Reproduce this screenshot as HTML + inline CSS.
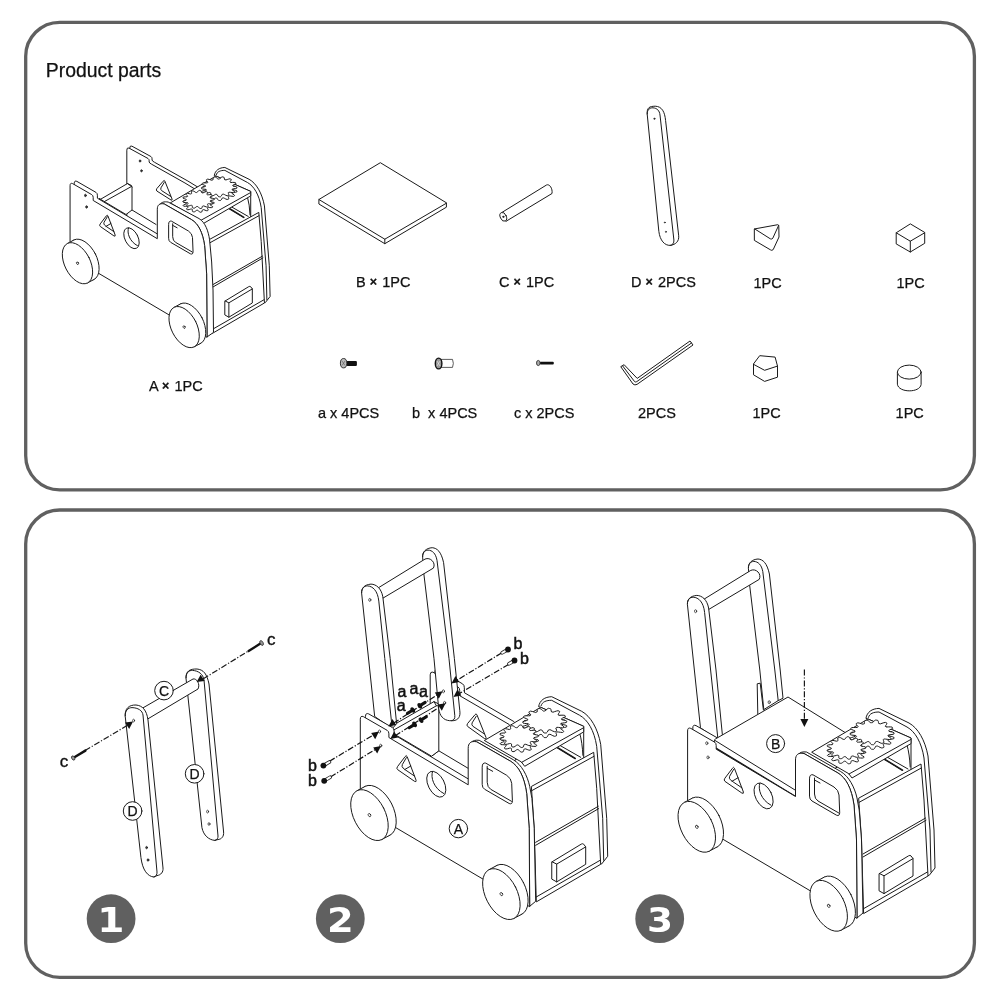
<!DOCTYPE html>
<html><head><meta charset="utf-8"><title>Product parts</title>
<style>
html,body{margin:0;padding:0;background:#fff;}
body{width:1000px;height:1000px;overflow:hidden;position:relative;font-family:"Liberation Sans",sans-serif;}
svg{position:absolute;left:0;top:0;display:block;will-change:transform}
.t{font-family:"Liberation Sans",sans-serif;font-size:14.5px;fill:#111;stroke:#111;stroke-width:.25}
.k{fill:none;stroke:#1a1a1a;stroke-width:1;stroke-linejoin:round;stroke-linecap:round;vector-effect:non-scaling-stroke}
.w{fill:#fff;stroke:#1a1a1a;stroke-width:1;stroke-linejoin:round;stroke-linecap:round;vector-effect:non-scaling-stroke}
.n{font-family:"DejaVu Sans",sans-serif;font-weight:bold;font-size:34px;fill:#fff;text-anchor:middle}
</style></head><body>
<svg width="1000" height="1000" viewBox="0 0 1000 1000">
<!-- 00_frame.svg -->
<rect x="25.7" y="22.3" width="948.7" height="467.5" rx="34" ry="34" fill="#fff" stroke="#606060" stroke-width="3.3"/>
<rect x="25.7" y="510" width="948.7" height="467.3" rx="34" ry="34" fill="#fff" stroke="#606060" stroke-width="3.3"/>
<text x="45.8" y="76.8" style="font-family:'Liberation Sans',sans-serif;font-size:19.4px;fill:#111;stroke:#111;stroke-width:.25">Product parts</text>
<text class="t" x="149" y="390.8">A <tspan style="font-weight:bold;font-size:12.5px" dy="-0.6">×</tspan><tspan dy="0.6" dx="1.2"> </tspan>1PC</text>
<text class="t" x="356" y="286.6">B <tspan style="font-weight:bold;font-size:12.5px" dy="-0.6">×</tspan><tspan dy="0.6" dx="1.2"> </tspan>1PC</text>
<text class="t" x="499" y="286.6">C <tspan style="font-weight:bold;font-size:12.5px" dy="-0.6">×</tspan><tspan dy="0.6" dx="1.2"> </tspan>1PC</text>
<text class="t" x="631" y="286.6">D <tspan style="font-weight:bold;font-size:12.5px" dy="-0.6">×</tspan><tspan dy="0.6" dx="1.2"> </tspan>2PCS</text>
<text class="t" x="753.5" y="287.5">1PC</text>
<text class="t" x="896.5" y="287.5">1PC</text>
<text class="t" x="318" y="418">a x 4PCS</text>
<text class="t" x="412" y="418" xml:space="preserve">b  x 4PCS</text>
<text class="t" x="514" y="418">c x 2PCS</text>
<text class="t" x="638" y="418">2PCS</text>
<text class="t" x="752.5" y="418.4">1PC</text>
<text class="t" x="895.6" y="418.4">1PC</text>
<circle cx="111.1" cy="918.7" r="24.4" fill="#606060"/>
<circle cx="340.3" cy="918.7" r="24.4" fill="#606060"/>
<circle cx="659.7" cy="918.7" r="24.4" fill="#606060"/>
<text class="n" x="0" y="932" transform="translate(110.9 0) scale(1.15 1)">1</text>
<text class="n" x="0" y="932" transform="translate(340.3 0) scale(1.13 1)">2</text>
<text class="n" x="0" y="932.2" transform="translate(659.9 0) scale(1.1 1)">3</text>
<!-- 10_smallparts.svg -->
<g class="k">
<!-- B board -->
<path class="w" d="M380 162.9 L318.9 199.5 L318.9 204 L384.8 243.7 L446.4 207.2 L446.4 203.2 Z"/>
<path d="M318.9 199.5 L384.8 239.2 L446.4 203.2 M384.8 239.2 L384.8 243.7"/>
<!-- C dowel -->
<path class="w" d="M502 212.4 L546.5 185 C549.5 183.6 552.8 188.5 552 193.5 L506.2 221.2 Z"/>
<ellipse class="w" cx="503.3" cy="216.8" rx="3" ry="4.6" transform="rotate(-25 503.3 216.8)"/>
<circle cx="503.3" cy="216.8" r="0.6" fill="#222"/>
<!-- D bar -->
<path class="w" d="M647.2 114.2 C646.6 107.5 649.5 106.3 655.2 106.2 C662 106.4 664.8 112 665.6 120.6 L678.7 235.8 C679.2 241.5 675.5 244.6 670.4 245.4 C664.5 245.6 660 240.5 658.9 231.8 Z"/>
<path d="M647.2 114.2 C647 109.5 650 107.6 653 107.8 C657 108.2 659.5 110.5 660 115 L673.9 240 C674.2 243 672.5 245.3 670.4 245.4"/>
<circle cx="654.4" cy="118.7" r="0.7" fill="#333" stroke-width="0.5"/>
<circle cx="664.8" cy="222.5" r="0.6" fill="#333" stroke-width="0.5"/>
<circle cx="665.9" cy="231.8" r="0.6" fill="#333" stroke-width="0.5"/>
<!-- triangular prism -->
<path class="w" d="M754.7 228.9 L777.8 224.7 Q779 224.8 778.8 226.5 L779 237 L773.2 249.6 Q771.8 251 770.4 249.8 L754.7 240.6 Z"/>
<path d="M754.7 228.9 L770.3 238.8 Q772 239.8 772.9 238 L778.6 225.5"/>
<!-- cube -->
<path class="w" d="M910 224.1 L896.2 232.8 L896.2 243.9 L910.3 252 L924.7 243.3 L924.7 232.8 Z"/>
<path d="M896.2 232.8 L910.3 241.2 L924.7 232.8 M910.3 241.2 L910.3 252"/>
<!-- pentagon -->
<path class="w" d="M760.1 355.7 L775.1 357.1 L777.5 366.1 L777.5 377.2 L764.6 381.4 L753.5 374.8 L753.5 364.3 Z"/>
<path d="M753.5 364.3 L764.6 370.3 L777.5 366.1"/>
<!-- cylinder -->
<path class="w" d="M897.4 372.3 L897.4 384.2 C898.5 393 920 393 921.1 384.5 L921.1 372.3"/>
<ellipse class="w" cx="909.25" cy="372.1" rx="11.85" ry="7"/>
<!-- hex key -->
<path class="w" d="M621 367 L633 384 Q634.8 385.6 637 384.4 L693 345 L690 341 L637.2 378.4 L624.4 365 Z"/>
<path d="M622.7 366 L634.6 381.6 Q635.6 382.4 636.8 381.6 L691.5 343"/>
</g>
<!-- screw a -->
<rect x="346.5" y="360.9" width="10.4" height="5" rx="1" fill="#111"/>
<ellipse cx="343.6" cy="363.2" rx="3.2" ry="4.7" fill="#bbb" stroke="#222" stroke-width="0.9"/>
<path d="M342 361 L345 365.5 M345 361 L342 365.5" stroke="#555" stroke-width="0.6"/>
<!-- screw b -->
<path d="M441 359.4 L452.5 359.4 Q454.2 363.4 452.5 367.4 L441 367.4 Z" fill="#fff" stroke="#333" stroke-width="0.8"/>
<ellipse cx="438.6" cy="363.5" rx="3.3" ry="5.4" fill="#999" stroke="#111" stroke-width="1.4"/>
<path d="M437 361 L440 366 M440 361 L437 366" stroke="#eee" stroke-width="0.6"/>
<!-- screw c -->
<rect x="540" y="361.7" width="13.8" height="2.7" rx="1" fill="#111"/>
<ellipse cx="538.3" cy="363" rx="1.8" ry="2.6" fill="#aaa" stroke="#222" stroke-width="0.8"/>
<!-- 20_step1.svg -->
<g class="k">
<!-- right (far) bar -->
<path class="w" d="M186 678 C185.6 671 190 668.8 197 669 C203.5 669.6 207 674 209 684 L223.6 832 C224 836.5 221.5 839.3 218 839.5 L215 840.4 C209 840 203.5 835.5 202 828 Z"/>
<path d="M186 678 C186 672.5 189 670.2 192.5 670.4 C198.5 670.8 203 674 204 680 L218 836 C218.2 838 217 840 215 840.4"/>
<!-- crossbar -->
<path class="w" d="M141 709 L193 679 C196.5 678 200.5 684 198 689 L147 719.4 Z"/>
<!-- left (near) bar -->
<path class="w" d="M125.2 716 C124.6 708.5 129 704.8 136 705 C142.5 705.6 146.6 710 148 720 L163 868 C163.4 872 161 875 157 875.6 L154 877 C147.5 876.5 142.5 870 141 858 Z"/>
<path d="M125.2 716 C125 710.5 128 707.7 132 707.6 C138 707.8 142.4 710.5 143 715 L157 872 C157.2 874.5 156 876.5 154 877"/>
<ellipse cx="133.6" cy="720.6" rx="1" ry="1.4" style="stroke-width:.7"/>
<ellipse cx="146.6" cy="847.6" rx="0.9" ry="1.2" style="stroke-width:.7" fill="#444"/>
<ellipse cx="148" cy="860" rx="0.9" ry="1.2" style="stroke-width:.7" fill="#444"/>
<ellipse cx="207.6" cy="811.6" rx="1" ry="1.4" style="stroke-width:.7"/>
<ellipse cx="209" cy="824" rx="1" ry="1.4" style="stroke-width:.7"/>
<!-- dash-dot lines -->
<path d="M85 750.5 L127 725.6" style="stroke-dasharray:6 1.8 1.2 1.8;stroke-width:1.2;stroke-linecap:butt"/>
<path d="M203 679 L247.2 651.8" style="stroke-dasharray:6 1.8 1.2 1.8;stroke-width:1.2;stroke-linecap:butt"/>
</g>
<path d="M133 721.6 L125 722.6 L129.2 729 Z" fill="#111"/>
<path d="M196.6 682 L204.6 681 L200.6 674.8 Z" fill="#111"/>
<!-- screws c -->
<path d="M74.8 757 L85.4 750.6" stroke="#111" stroke-width="2.4" stroke-linecap="round"/>
<ellipse cx="73.2" cy="758" rx="1.5" ry="2.3" transform="rotate(-30 73.2 758)" fill="#999" stroke="#222" style="stroke-width:.7"/>
<path d="M248.6 651 L260 643.8" stroke="#111" stroke-width="2.4" stroke-linecap="round"/>
<ellipse cx="261.6" cy="643" rx="1.5" ry="2.6" transform="rotate(-30 261.6 643)" fill="#999" stroke="#222" style="stroke-width:.7"/>
<text x="64" y="767" text-anchor="middle" style="font-family:'Liberation Sans',sans-serif;font-size:17px;fill:#111;stroke:#111;stroke-width:.35">c</text>
<text x="271.2" y="645" text-anchor="middle" style="font-family:'Liberation Sans',sans-serif;font-size:17px;fill:#111;stroke:#111;stroke-width:.35">c</text>
<!-- circle labels -->
<g style="font-family:'Liberation Sans',sans-serif;font-size:14px;fill:#111;stroke:#111;stroke-width:.25;text-anchor:middle">
<circle class="w" cx="164" cy="690.6" r="9.3"/><text x="164" y="695.7">C</text>
<circle class="w" cx="194.6" cy="773.8" r="9.3"/><text x="194.6" y="778.9">D</text>
<circle class="w" cx="132.6" cy="811" r="9.3"/><text x="132.6" y="816.1">D</text>
</g>
<!-- 30_trucks.svg -->
<g id="truckA" transform="translate(-485.93 -405.35) scale(0.8086)">
<path class="w" d="M866 718 C867 712 872 708.6 879 708.4 L909 723 C918 728 925 740 928 756 L934 830 L935 868 L929 875.6 L911 876 L911 738 L868 719 Z"/>
<path class="k" d="M868.4 717.4 C869.5 713.4 873.5 712 879 712 L907 727 C915 731.5 921.5 742 924 758 L930 830 L931 872"/>
<path class="k" d="M907 745 Q909.6 754 910.2 767"/>
<path class="w" transform="translate(3.6 -2.4)" d="M757.8 800 L757.8 687 Q757.8 683.4 760.4 684.4 L784 697.3 Q785.4 698.2 785.4 700 L785.4 701.6 Q785.6 703 788.3 704.3 L829.7 727.6 L850 740 L860 760 L800 800 Z"/>
<path class="w" d="M757.8 800 L757.8 687 Q757.8 683.4 760.4 684.4 L784 697.3 Q785.4 698.2 785.4 700 L785.4 701.6 Q785.6 703 788.3 704.3 L829.7 727.6 L850 740 L860 760 L800 800 Z"/>
<ellipse class="k" cx="774.1" cy="700.4" rx="1" ry="1.4" style="stroke-width:.7;fill:#444"/>
<ellipse class="k" cx="775.9" cy="712.5" rx="1" ry="1.4" style="stroke-width:.7;fill:#444"/>
<path class="k" d="M803 725 Q804 723.4 804.8 725.2 L813.8 747.6 Q814.2 749.6 812.4 748.6 L795 737.6 Q793.6 736.4 794.6 735 Z"/>
<path class="k" d="M804 727 L800 733.6 Q799.2 735.6 800.8 737 L812 744.2"/>
<path class="k" d="M764.2 761 L793.9 778.9"/>
<path class="w" d="M725.9 747.4 L758.6 728.3 L763.6 730.7 L764.2 732.6 L764.2 761 L756.8 766.6 L724 747 Z"/>
<path class="k" d="M730.2 750.5 L763.6 731.9 L764.2 732.6 M763.6 731.9 L758.6 728.3"/>
<path class="w" transform="translate(5.2 -2.8)" d="M687.6 818 L687.6 731 Q687.6 727 690.8 728.4 L714.4 742 Q716.2 743 716.2 745.5 L716.2 749.2 L795.5 796.5 L795.5 818 Z"/>
<path class="k" d="M884 759 L902 770 M887 757 L908 769"/>
<path class="k" d="M884.5 759.2 L902.5 770.2" style="stroke-width:1.6"/>
<path class="w" d="M859 798 L921 764 L924 800 L928 876 L863.6 913.6 L861.5 840 Z"/>
<path class="k" d="M859 802.4 L921.3 768"/>
<path class="k" d="M863 854 L925.6 818 M863 857 L926 820.3"/>
<path class="k" d="M863 909 L927.4 872"/>
<path class="w" d="M879.4 873.5 L908.6 855.8 Q910 855 911 855.9 L913 858.6 L913 876 L884 893.6 L879.4 891 Z"/>
<path class="k" d="M879.4 873.5 L884 875.8 L913 858.6 M884 875.8 L884 893.6"/>
<path class="w" d="M812 752 L868 719 L911 738 L911 743.6 L852 778 L849 774 Z"/>
<path class="k" d="M849 774 L910.6 739.6"/>
<path class="w" d="M892.9 736.9 L894.1 737.5 L894.0 738.1 L893.8 738.7 L892.0 739.1 L889.8 739.4 L888.3 739.6 L888.1 740.1 L887.9 740.5 L889.1 741.4 L890.5 742.3 L891.1 743.2 L890.5 743.7 L889.8 744.2 L887.9 744.0 L885.7 743.7 L884.2 743.6 L883.6 743.9 L883.1 744.3 L883.5 745.3 L883.9 746.5 L883.7 747.5 L882.8 747.8 L881.8 748.0 L880.1 747.4 L878.5 746.5 L877.3 746.0 L876.5 746.1 L875.7 746.3 L875.2 747.3 L874.5 748.5 L873.6 749.3 L872.5 749.3 L871.5 749.3 L870.5 748.3 L869.8 747.1 L869.1 746.3 L868.3 746.2 L867.5 746.2 L866.2 747.0 L864.6 747.9 L863.2 748.3 L862.2 748.0 L861.3 747.7 L861.3 746.6 L861.6 745.4 L861.6 744.5 L861.0 744.2 L860.3 743.9 L858.5 744.3 L856.4 744.7 L854.7 744.7 L854.1 744.2 L853.5 743.7 L854.5 742.7 L855.8 741.7 L856.5 740.9 L856.2 740.5 L855.8 740.1 L853.9 739.9 L851.7 739.7 L850.3 739.3 L850.1 738.7 L850.0 738.1 L851.7 737.5 L853.7 736.9 L855.0 736.4 L855.0 736.0 L855.0 735.5 L853.5 734.9 L851.7 734.1 L850.8 733.3 L851.1 732.8 L851.6 732.2 L853.6 732.1 L855.8 732.1 L857.3 732.0 L857.7 731.7 L858.1 731.2 L857.3 730.3 L856.4 729.1 L856.2 728.2 L856.9 727.8 L857.8 727.4 L859.7 727.8 L861.6 728.4 L863.0 728.8 L863.7 728.5 L864.4 728.3 L864.5 727.2 L864.6 725.9 L865.2 725.1 L866.2 724.9 L867.2 724.8 L868.6 725.6 L869.8 726.7 L870.8 727.4 L871.6 727.3 L872.4 727.3 L873.4 726.3 L874.5 725.3 L875.7 724.6 L876.8 724.8 L877.8 725.0 L878.3 726.0 L878.5 727.3 L878.8 728.1 L879.6 728.3 L880.3 728.5 L882.0 727.9 L883.9 727.3 L885.4 727.0 L886.3 727.4 L887.0 727.8 L886.6 728.9 L885.7 730.1 L885.3 730.9 L885.8 731.3 L886.3 731.6 L888.3 731.5 L890.5 731.5 L892.1 731.7 L892.5 732.2 L892.8 732.8 L891.5 733.6 L889.8 734.4 L888.7 735.1 L888.9 735.5 L889.1 736.0 L890.8 736.4 Z"/>
<path class="w" d="M892.9 732.3 L894.1 732.9 L894.0 733.5 L893.8 734.1 L892.0 734.5 L889.8 734.8 L888.3 735.0 L888.1 735.5 L887.9 735.9 L889.1 736.8 L890.5 737.7 L891.1 738.6 L890.5 739.1 L889.8 739.6 L887.9 739.4 L885.7 739.1 L884.2 739.0 L883.6 739.3 L883.1 739.7 L883.5 740.7 L883.9 741.9 L883.7 742.9 L882.8 743.2 L881.8 743.4 L880.1 742.8 L878.5 741.9 L877.3 741.4 L876.5 741.5 L875.7 741.7 L875.2 742.7 L874.5 743.9 L873.6 744.7 L872.5 744.7 L871.5 744.7 L870.5 743.7 L869.8 742.5 L869.1 741.7 L868.3 741.6 L867.5 741.6 L866.2 742.4 L864.6 743.3 L863.2 743.7 L862.2 743.4 L861.3 743.1 L861.3 742.0 L861.6 740.8 L861.6 739.9 L861.0 739.6 L860.3 739.3 L858.5 739.7 L856.4 740.1 L854.7 740.1 L854.1 739.6 L853.5 739.1 L854.5 738.1 L855.8 737.1 L856.5 736.3 L856.2 735.9 L855.8 735.5 L853.9 735.3 L851.7 735.1 L850.3 734.7 L850.1 734.1 L850.0 733.5 L851.7 732.9 L853.7 732.3 L855.0 731.8 L855.0 731.4 L855.0 730.9 L853.5 730.3 L851.7 729.5 L850.8 728.7 L851.1 728.2 L851.6 727.6 L853.6 727.5 L855.8 727.5 L857.3 727.4 L857.7 727.1 L858.1 726.6 L857.3 725.7 L856.4 724.5 L856.2 723.6 L856.9 723.2 L857.8 722.8 L859.7 723.2 L861.6 723.8 L863.0 724.2 L863.7 723.9 L864.4 723.7 L864.5 722.6 L864.6 721.3 L865.2 720.5 L866.2 720.3 L867.2 720.2 L868.6 721.0 L869.8 722.1 L870.8 722.8 L871.6 722.7 L872.4 722.7 L873.4 721.7 L874.5 720.7 L875.7 720.0 L876.8 720.2 L877.8 720.4 L878.3 721.4 L878.5 722.7 L878.8 723.5 L879.6 723.7 L880.3 723.9 L882.0 723.3 L883.9 722.7 L885.4 722.4 L886.3 722.8 L887.0 723.2 L886.6 724.3 L885.7 725.5 L885.3 726.3 L885.8 726.7 L886.3 727.0 L888.3 726.9 L890.5 726.9 L892.1 727.1 L892.5 727.6 L892.8 728.2 L891.5 729.0 L889.8 729.8 L888.7 730.5 L888.9 730.9 L889.1 731.4 L890.8 731.8 Z"/>
<path class="w" d="M865.7 752.6 L864.9 753.1 L863.1 753.5 L861.4 753.9 L861.0 754.3 L860.8 754.7 L861.4 755.2 L862.8 756.0 L864.0 756.8 L863.9 757.4 L863.5 757.9 L862.3 758.1 L860.4 758.0 L858.7 757.8 L858.0 758.0 L857.5 758.4 L857.6 759.0 L858.2 760.1 L858.6 761.1 L858.1 761.6 L857.3 761.9 L856.1 761.8 L854.5 761.2 L853.1 760.6 L852.3 760.6 L851.6 760.7 L851.2 761.3 L850.9 762.4 L850.4 763.5 L849.6 763.7 L848.6 763.8 L847.6 763.4 L846.7 762.4 L845.9 761.5 L845.2 761.3 L844.5 761.2 L843.6 761.7 L842.5 762.6 L841.3 763.3 L840.3 763.3 L839.4 763.2 L838.9 762.5 L838.8 761.4 L838.9 760.4 L838.4 760.0 L837.8 759.8 L836.7 759.9 L835.0 760.4 L833.3 760.7 L832.4 760.5 L831.8 760.1 L831.8 759.4 L832.7 758.4 L833.5 757.5 L833.4 757.0 L833.1 756.6 L832.0 756.5 L830.1 756.4 L828.3 756.3 L827.7 755.8 L827.4 755.3 L828.0 754.7 L829.6 754.0 L831.1 753.5 L831.4 753.0 L831.3 752.6 L830.5 752.2 L828.9 751.6 L827.4 751.0 L827.2 750.4 L827.4 749.9 L828.5 749.5 L830.4 749.3 L832.2 749.3 L832.7 748.9 L833.1 748.6 L832.7 747.9 L831.6 747.0 L830.8 746.1 L831.1 745.5 L831.8 745.1 L833.0 745.0 L834.8 745.4 L836.5 745.8 L837.2 745.7 L837.8 745.4 L838.0 744.8 L837.8 743.7 L837.8 742.6 L838.5 742.2 L839.4 742.0 L840.6 742.3 L841.9 743.1 L843.0 743.9 L843.8 744.0 L844.5 744.0 L845.2 743.4 L845.9 742.4 L846.8 741.5 L847.7 741.3 L848.6 741.4 L849.4 741.9 L849.9 743.0 L850.3 744.0 L850.9 744.3 L851.6 744.5 L852.6 744.2 L854.1 743.5 L855.6 742.9 L856.6 743.0 L857.3 743.3 L857.6 744.0 L857.2 745.1 L856.7 746.1 L857.0 746.5 L857.5 746.8 L858.6 746.8 L860.5 746.6 L862.3 746.5 L863.1 746.9 L863.5 747.3 L863.2 748.0 L861.9 748.9 L860.7 749.7 L860.6 750.1 L860.8 750.5 L861.8 750.8 L863.6 751.1 L865.3 751.5 L865.7 752.1 Z"/>
<path class="w" d="M865.7 748.0 L864.9 748.5 L863.1 748.9 L861.4 749.3 L861.0 749.7 L860.8 750.1 L861.4 750.6 L862.8 751.4 L864.0 752.2 L863.9 752.8 L863.5 753.3 L862.3 753.5 L860.4 753.4 L858.7 753.2 L858.0 753.4 L857.5 753.8 L857.6 754.4 L858.2 755.5 L858.6 756.5 L858.1 757.0 L857.3 757.3 L856.1 757.2 L854.5 756.6 L853.1 756.0 L852.3 756.0 L851.6 756.1 L851.2 756.7 L850.9 757.8 L850.4 758.9 L849.6 759.1 L848.6 759.2 L847.6 758.8 L846.7 757.8 L845.9 756.9 L845.2 756.7 L844.5 756.6 L843.6 757.1 L842.5 758.0 L841.3 758.7 L840.3 758.7 L839.4 758.6 L838.9 757.9 L838.8 756.8 L838.9 755.8 L838.4 755.4 L837.8 755.2 L836.7 755.3 L835.0 755.8 L833.3 756.1 L832.4 755.9 L831.8 755.5 L831.8 754.8 L832.7 753.8 L833.5 752.9 L833.4 752.4 L833.1 752.0 L832.0 751.9 L830.1 751.8 L828.3 751.7 L827.7 751.2 L827.4 750.7 L828.0 750.1 L829.6 749.4 L831.1 748.9 L831.4 748.4 L831.3 748.0 L830.5 747.6 L828.9 747.0 L827.4 746.4 L827.2 745.8 L827.4 745.3 L828.5 744.9 L830.4 744.7 L832.2 744.7 L832.7 744.3 L833.1 744.0 L832.7 743.3 L831.6 742.4 L830.8 741.5 L831.1 740.9 L831.8 740.5 L833.0 740.4 L834.8 740.8 L836.5 741.2 L837.2 741.1 L837.8 740.8 L838.0 740.2 L837.8 739.1 L837.8 738.0 L838.5 737.6 L839.4 737.4 L840.6 737.7 L841.9 738.5 L843.0 739.3 L843.8 739.4 L844.5 739.4 L845.2 738.8 L845.9 737.8 L846.8 736.9 L847.7 736.7 L848.6 736.8 L849.4 737.3 L849.9 738.4 L850.3 739.4 L850.9 739.7 L851.6 739.9 L852.6 739.6 L854.1 738.9 L855.6 738.3 L856.6 738.4 L857.3 738.7 L857.6 739.4 L857.2 740.5 L856.7 741.5 L857.0 741.9 L857.5 742.2 L858.6 742.2 L860.5 742.0 L862.3 741.9 L863.1 742.3 L863.5 742.7 L863.2 743.4 L861.9 744.3 L860.7 745.1 L860.6 745.5 L860.8 745.9 L861.8 746.2 L863.6 746.5 L865.3 746.9 L865.7 747.5 Z"/>
<path class="w" d="M797.6 755.6 C800 751 804 750.4 809 751.2 L847.1 771.6 C855 776.5 858.5 787 860.1 797.6 L862.7 825.3 L864.4 860 L865 912.4 L857 918 L856.5 840 L854 805 C851.5 788 846 778 838 773 L804 753.5 C801 753 799.5 753.3 797.6 755.6 Z"/>
<path class="w" d="M687.6 818 L687.6 731 Q687.6 727 690.8 728.4 L714.4 742 Q716.2 743 716.2 745.5 L716.2 749.2 L795.5 796.5 L795.5 760 C795.5 755 798 752.3 804 753.5 L838 773 C846 778 851.5 788 854 805 L856.5 840 L857 918 Z"/>
<path class="k" d="M809.5 778.5 Q809.5 774 813 774.8 L834 787 Q838.6 790 839 795 L839.7 812.5 Q839.7 816.5 836.5 815.2 L812 801 Q809.5 799.5 809.5 796.5 Z"/>
<path class="k" d="M814.5 778 L814.5 794 Q814.7 799 818 801 L838.8 813 M814.5 780 L820 783"/>
<ellipse class="k" cx="763.6" cy="795.9" rx="8.1" ry="13.9" transform="rotate(-27 763.6 795.9)"/>
<path class="k" d="M759.9 783.2 C757.6 789 761 800 771 805.2"/>
<path class="k" d="M732.6 768 Q733.6 766.4 734.4 768.2 L743.4 792 Q743.8 794.2 741.8 793 L725 781.4 Q723.4 780.2 724.6 778.6 Z"/>
<path class="k" d="M733.7 769.3 L729.6 776.3 Q728.8 778.4 730.4 779.8 L732.1 781.2 L742 787.9 M732.1 781.2 L738.1 777.7"/>
<ellipse class="k" cx="706.6" cy="743" rx="1.1" ry="1.5" style="stroke-width:.7;fill:#444"/>
<ellipse class="k" cx="708" cy="757.2" rx="1.1" ry="1.5" style="stroke-width:.7;fill:#444"/>
<ellipse class="w" cx="704.8" cy="822.5" rx="15.8" ry="27.4" transform="rotate(-27 704.8 822.5)"/>
<path d="M684.4 802.4 L692.4 798.1 L717.2 846.9 L709.2 851.2 Z" fill="#fff" stroke="none"/>
<path class="k" d="M684.4 802.4 L692.4 798.1 M709.2 851.2 L717.2 846.9"/>
<ellipse class="w" cx="696.8" cy="826.8" rx="15.8" ry="27.4" transform="rotate(-27 696.8 826.8)"/>
<ellipse class="k" cx="696.8" cy="826.8" rx="1.2" ry="1.7" transform="rotate(-27 696.8 826.8)" style="stroke-width:.85"/>
<ellipse class="w" cx="836.7" cy="901.5" rx="15.8" ry="27.4" transform="rotate(-27 836.7 901.5)"/>
<path d="M816.3 881.4 L824.3 877.1 L849.1 925.9 L841.1 930.2 Z" fill="#fff" stroke="none"/>
<path class="k" d="M816.3 881.4 L824.3 877.1 M841.1 930.2 L849.1 925.9"/>
<ellipse class="w" cx="828.7" cy="905.8" rx="15.8" ry="27.4" transform="rotate(-27 828.7 905.8)"/>
<ellipse class="k" cx="828.7" cy="905.8" rx="1.2" ry="1.7" transform="rotate(-27 828.7 905.8)" style="stroke-width:.85"/>
</g>
<g id="truck2" transform="translate(-327.3 -11.7)">
<path class="w" d="M866 718 C867 712 872 708.6 879 708.4 L909 723 C918 728 925 740 928 756 L934 830 L935 868 L929 875.6 L911 876 L911 738 L868 719 Z"/>
<path class="k" d="M868.4 717.4 C869.5 713.4 873.5 712 879 712 L907 727 C915 731.5 921.5 742 924 758 L930 830 L931 872"/>
<path class="k" d="M907 745 Q909.6 754 910.2 767"/>
<path class="w" transform="translate(4.6 -3)" d="M757.5 800 L757.5 686.5 Q757.5 683.2 760.2 683.8 L785.3 698.6 Q787 699.8 787 702 L787.2 707.5 L836.5 736.2 L860 760 L800 800 Z"/>
<path class="w" d="M757.5 800 L757.5 686.5 Q757.5 683.2 760.2 683.8 L785.3 698.6 Q787 699.8 787 702 L787.2 707.5 L836.5 736.2 L860 760 L800 800 Z"/>
<ellipse class="k" cx="770.7" cy="703.1" rx="1.1" ry="1.5" style="stroke-width:.7"/>
<ellipse class="k" cx="771.9" cy="714.7" rx="1.1" ry="1.5" style="stroke-width:.7"/>
<path class="k" d="M802.4 726.2 Q803.4 724.6 804.2 726.4 L813.4 749.4 Q813.8 751.4 812 750.4 L795 738.2 Q793.6 737 794.6 735.6 Z"/>
<path class="k" d="M803.5 728 L799.4 734.6 Q798.6 736.6 800.2 738 L811.6 745.6"/>
<path class="k" d="M766.1 762.5 L797.3 781.1 M758.9 767.9 L766.1 762.5"/>
<path class="w" d="M718.7 737.9 L761.3 713.3 L766.1 715.7 L766.1 762.5 L758.9 767.9 L719.3 744.5 Z"/>
<path class="k" d="M719.3 742.7 L763.7 717.5 L766.1 717.5 M763.7 717.5 L761.3 713.3"/>
<g transform="translate(1.5 0.4)">
<path class="w" d="M748.4 568 C748 563 752 559.4 758 559 C763 559.4 767 563 769.4 574 L780.2 670 L785.6 722 C786.5 728 784 731.5 779 732 L775.5 732 C769 731.5 765.5 727 764.5 720 L759.8 670 L749.6 584.8 Z"/>
<path class="k" d="M748.4 568 C748.4 564 750.5 561.6 753.8 561.4 C758 561.6 761.5 564.5 762.8 571.6 L774.8 670 L780.6 727 C781 730 779.5 731.6 777.5 732"/>
<ellipse class="k" cx="769.2" cy="702.6" rx="1.1" ry="1.5" style="stroke-width:.7"/>
<ellipse class="k" cx="770.4" cy="714.2" rx="1.1" ry="1.5" style="stroke-width:.7"/>
<path class="w" d="M704 599.2 L750.8 570.4 C756 568 762 574 759.2 579.4 L708.8 609.4 Z"/>
<path class="w" d="M687.4 604 C687.2 599.5 690 596 696.8 595.4 C702 595.6 707 599.5 708.6 608 L716 670 L722.4 735 L718 740 L700.8 728 Z"/>
<path class="k" d="M687.4 604 C687.3 599.5 690 597.2 693.2 597.2 C698.5 597.4 703.5 602 704.6 612.4 L710.6 670 L717.8 737.8"/>
<ellipse class="k" cx="695.6" cy="611.2" rx="1.1" ry="1.5" style="stroke-width:.7"/>
</g>
<path class="w" transform="translate(5.2 -2.8)" d="M687.6 818 L687.6 731 Q687.6 727 690.8 728.4 L714.4 742 Q716.2 743 716.2 745.5 L716.2 749.2 L795.5 796.5 L795.5 818 Z"/>
<path class="k" d="M884 759 L902 770 M887 757 L908 769"/>
<path class="k" d="M884.5 759.2 L902.5 770.2" style="stroke-width:1.6"/>
<path class="w" d="M859 798 L921 764 L924 800 L928 876 L863.6 913.6 L861.5 840 Z"/>
<path class="k" d="M859 802.4 L921.3 768"/>
<path class="k" d="M863 854 L925.6 818 M863 857 L926 820.3"/>
<path class="k" d="M863 909 L927.4 872"/>
<path class="w" d="M879.4 873.5 L908.6 855.8 Q910 855 911 855.9 L913 858.6 L913 876 L884 893.6 L879.4 891 Z"/>
<path class="k" d="M879.4 873.5 L884 875.8 L913 858.6 M884 875.8 L884 893.6"/>
<path class="w" d="M812 752 L868 719 L911 738 L911 743.6 L852 778 L849 774 Z"/>
<path class="k" d="M849 774 L910.6 739.6"/>
<path class="w" d="M892.9 736.9 L894.1 737.5 L894.0 738.1 L893.8 738.7 L892.0 739.1 L889.8 739.4 L888.3 739.6 L888.1 740.1 L887.9 740.5 L889.1 741.4 L890.5 742.3 L891.1 743.2 L890.5 743.7 L889.8 744.2 L887.9 744.0 L885.7 743.7 L884.2 743.6 L883.6 743.9 L883.1 744.3 L883.5 745.3 L883.9 746.5 L883.7 747.5 L882.8 747.8 L881.8 748.0 L880.1 747.4 L878.5 746.5 L877.3 746.0 L876.5 746.1 L875.7 746.3 L875.2 747.3 L874.5 748.5 L873.6 749.3 L872.5 749.3 L871.5 749.3 L870.5 748.3 L869.8 747.1 L869.1 746.3 L868.3 746.2 L867.5 746.2 L866.2 747.0 L864.6 747.9 L863.2 748.3 L862.2 748.0 L861.3 747.7 L861.3 746.6 L861.6 745.4 L861.6 744.5 L861.0 744.2 L860.3 743.9 L858.5 744.3 L856.4 744.7 L854.7 744.7 L854.1 744.2 L853.5 743.7 L854.5 742.7 L855.8 741.7 L856.5 740.9 L856.2 740.5 L855.8 740.1 L853.9 739.9 L851.7 739.7 L850.3 739.3 L850.1 738.7 L850.0 738.1 L851.7 737.5 L853.7 736.9 L855.0 736.4 L855.0 736.0 L855.0 735.5 L853.5 734.9 L851.7 734.1 L850.8 733.3 L851.1 732.8 L851.6 732.2 L853.6 732.1 L855.8 732.1 L857.3 732.0 L857.7 731.7 L858.1 731.2 L857.3 730.3 L856.4 729.1 L856.2 728.2 L856.9 727.8 L857.8 727.4 L859.7 727.8 L861.6 728.4 L863.0 728.8 L863.7 728.5 L864.4 728.3 L864.5 727.2 L864.6 725.9 L865.2 725.1 L866.2 724.9 L867.2 724.8 L868.6 725.6 L869.8 726.7 L870.8 727.4 L871.6 727.3 L872.4 727.3 L873.4 726.3 L874.5 725.3 L875.7 724.6 L876.8 724.8 L877.8 725.0 L878.3 726.0 L878.5 727.3 L878.8 728.1 L879.6 728.3 L880.3 728.5 L882.0 727.9 L883.9 727.3 L885.4 727.0 L886.3 727.4 L887.0 727.8 L886.6 728.9 L885.7 730.1 L885.3 730.9 L885.8 731.3 L886.3 731.6 L888.3 731.5 L890.5 731.5 L892.1 731.7 L892.5 732.2 L892.8 732.8 L891.5 733.6 L889.8 734.4 L888.7 735.1 L888.9 735.5 L889.1 736.0 L890.8 736.4 Z"/>
<path class="w" d="M892.9 732.3 L894.1 732.9 L894.0 733.5 L893.8 734.1 L892.0 734.5 L889.8 734.8 L888.3 735.0 L888.1 735.5 L887.9 735.9 L889.1 736.8 L890.5 737.7 L891.1 738.6 L890.5 739.1 L889.8 739.6 L887.9 739.4 L885.7 739.1 L884.2 739.0 L883.6 739.3 L883.1 739.7 L883.5 740.7 L883.9 741.9 L883.7 742.9 L882.8 743.2 L881.8 743.4 L880.1 742.8 L878.5 741.9 L877.3 741.4 L876.5 741.5 L875.7 741.7 L875.2 742.7 L874.5 743.9 L873.6 744.7 L872.5 744.7 L871.5 744.7 L870.5 743.7 L869.8 742.5 L869.1 741.7 L868.3 741.6 L867.5 741.6 L866.2 742.4 L864.6 743.3 L863.2 743.7 L862.2 743.4 L861.3 743.1 L861.3 742.0 L861.6 740.8 L861.6 739.9 L861.0 739.6 L860.3 739.3 L858.5 739.7 L856.4 740.1 L854.7 740.1 L854.1 739.6 L853.5 739.1 L854.5 738.1 L855.8 737.1 L856.5 736.3 L856.2 735.9 L855.8 735.5 L853.9 735.3 L851.7 735.1 L850.3 734.7 L850.1 734.1 L850.0 733.5 L851.7 732.9 L853.7 732.3 L855.0 731.8 L855.0 731.4 L855.0 730.9 L853.5 730.3 L851.7 729.5 L850.8 728.7 L851.1 728.2 L851.6 727.6 L853.6 727.5 L855.8 727.5 L857.3 727.4 L857.7 727.1 L858.1 726.6 L857.3 725.7 L856.4 724.5 L856.2 723.6 L856.9 723.2 L857.8 722.8 L859.7 723.2 L861.6 723.8 L863.0 724.2 L863.7 723.9 L864.4 723.7 L864.5 722.6 L864.6 721.3 L865.2 720.5 L866.2 720.3 L867.2 720.2 L868.6 721.0 L869.8 722.1 L870.8 722.8 L871.6 722.7 L872.4 722.7 L873.4 721.7 L874.5 720.7 L875.7 720.0 L876.8 720.2 L877.8 720.4 L878.3 721.4 L878.5 722.7 L878.8 723.5 L879.6 723.7 L880.3 723.9 L882.0 723.3 L883.9 722.7 L885.4 722.4 L886.3 722.8 L887.0 723.2 L886.6 724.3 L885.7 725.5 L885.3 726.3 L885.8 726.7 L886.3 727.0 L888.3 726.9 L890.5 726.9 L892.1 727.1 L892.5 727.6 L892.8 728.2 L891.5 729.0 L889.8 729.8 L888.7 730.5 L888.9 730.9 L889.1 731.4 L890.8 731.8 Z"/>
<path class="w" d="M865.7 752.6 L864.9 753.1 L863.1 753.5 L861.4 753.9 L861.0 754.3 L860.8 754.7 L861.4 755.2 L862.8 756.0 L864.0 756.8 L863.9 757.4 L863.5 757.9 L862.3 758.1 L860.4 758.0 L858.7 757.8 L858.0 758.0 L857.5 758.4 L857.6 759.0 L858.2 760.1 L858.6 761.1 L858.1 761.6 L857.3 761.9 L856.1 761.8 L854.5 761.2 L853.1 760.6 L852.3 760.6 L851.6 760.7 L851.2 761.3 L850.9 762.4 L850.4 763.5 L849.6 763.7 L848.6 763.8 L847.6 763.4 L846.7 762.4 L845.9 761.5 L845.2 761.3 L844.5 761.2 L843.6 761.7 L842.5 762.6 L841.3 763.3 L840.3 763.3 L839.4 763.2 L838.9 762.5 L838.8 761.4 L838.9 760.4 L838.4 760.0 L837.8 759.8 L836.7 759.9 L835.0 760.4 L833.3 760.7 L832.4 760.5 L831.8 760.1 L831.8 759.4 L832.7 758.4 L833.5 757.5 L833.4 757.0 L833.1 756.6 L832.0 756.5 L830.1 756.4 L828.3 756.3 L827.7 755.8 L827.4 755.3 L828.0 754.7 L829.6 754.0 L831.1 753.5 L831.4 753.0 L831.3 752.6 L830.5 752.2 L828.9 751.6 L827.4 751.0 L827.2 750.4 L827.4 749.9 L828.5 749.5 L830.4 749.3 L832.2 749.3 L832.7 748.9 L833.1 748.6 L832.7 747.9 L831.6 747.0 L830.8 746.1 L831.1 745.5 L831.8 745.1 L833.0 745.0 L834.8 745.4 L836.5 745.8 L837.2 745.7 L837.8 745.4 L838.0 744.8 L837.8 743.7 L837.8 742.6 L838.5 742.2 L839.4 742.0 L840.6 742.3 L841.9 743.1 L843.0 743.9 L843.8 744.0 L844.5 744.0 L845.2 743.4 L845.9 742.4 L846.8 741.5 L847.7 741.3 L848.6 741.4 L849.4 741.9 L849.9 743.0 L850.3 744.0 L850.9 744.3 L851.6 744.5 L852.6 744.2 L854.1 743.5 L855.6 742.9 L856.6 743.0 L857.3 743.3 L857.6 744.0 L857.2 745.1 L856.7 746.1 L857.0 746.5 L857.5 746.8 L858.6 746.8 L860.5 746.6 L862.3 746.5 L863.1 746.9 L863.5 747.3 L863.2 748.0 L861.9 748.9 L860.7 749.7 L860.6 750.1 L860.8 750.5 L861.8 750.8 L863.6 751.1 L865.3 751.5 L865.7 752.1 Z"/>
<path class="w" d="M865.7 748.0 L864.9 748.5 L863.1 748.9 L861.4 749.3 L861.0 749.7 L860.8 750.1 L861.4 750.6 L862.8 751.4 L864.0 752.2 L863.9 752.8 L863.5 753.3 L862.3 753.5 L860.4 753.4 L858.7 753.2 L858.0 753.4 L857.5 753.8 L857.6 754.4 L858.2 755.5 L858.6 756.5 L858.1 757.0 L857.3 757.3 L856.1 757.2 L854.5 756.6 L853.1 756.0 L852.3 756.0 L851.6 756.1 L851.2 756.7 L850.9 757.8 L850.4 758.9 L849.6 759.1 L848.6 759.2 L847.6 758.8 L846.7 757.8 L845.9 756.9 L845.2 756.7 L844.5 756.6 L843.6 757.1 L842.5 758.0 L841.3 758.7 L840.3 758.7 L839.4 758.6 L838.9 757.9 L838.8 756.8 L838.9 755.8 L838.4 755.4 L837.8 755.2 L836.7 755.3 L835.0 755.8 L833.3 756.1 L832.4 755.9 L831.8 755.5 L831.8 754.8 L832.7 753.8 L833.5 752.9 L833.4 752.4 L833.1 752.0 L832.0 751.9 L830.1 751.8 L828.3 751.7 L827.7 751.2 L827.4 750.7 L828.0 750.1 L829.6 749.4 L831.1 748.9 L831.4 748.4 L831.3 748.0 L830.5 747.6 L828.9 747.0 L827.4 746.4 L827.2 745.8 L827.4 745.3 L828.5 744.9 L830.4 744.7 L832.2 744.7 L832.7 744.3 L833.1 744.0 L832.7 743.3 L831.6 742.4 L830.8 741.5 L831.1 740.9 L831.8 740.5 L833.0 740.4 L834.8 740.8 L836.5 741.2 L837.2 741.1 L837.8 740.8 L838.0 740.2 L837.8 739.1 L837.8 738.0 L838.5 737.6 L839.4 737.4 L840.6 737.7 L841.9 738.5 L843.0 739.3 L843.8 739.4 L844.5 739.4 L845.2 738.8 L845.9 737.8 L846.8 736.9 L847.7 736.7 L848.6 736.8 L849.4 737.3 L849.9 738.4 L850.3 739.4 L850.9 739.7 L851.6 739.9 L852.6 739.6 L854.1 738.9 L855.6 738.3 L856.6 738.4 L857.3 738.7 L857.6 739.4 L857.2 740.5 L856.7 741.5 L857.0 741.9 L857.5 742.2 L858.6 742.2 L860.5 742.0 L862.3 741.9 L863.1 742.3 L863.5 742.7 L863.2 743.4 L861.9 744.3 L860.7 745.1 L860.6 745.5 L860.8 745.9 L861.8 746.2 L863.6 746.5 L865.3 746.9 L865.7 747.5 Z"/>
<path class="w" d="M798.2 754.5 C800 752 803 751.6 806.5 752 L840.7 771.5 C849 776.5 854.5 787 857 798 L859.2 810 L861.5 840 L863 913 L857 918 L856.5 840 L854 805 C851.5 788 846 778 838 773 L804 753.5 C801 753 799.5 753.3 798.2 754.5 Z"/>
<path class="w" d="M687.6 818 L687.6 731 Q687.6 727 690.8 728.4 L714.4 742 Q716.2 743 716.2 745.5 L716.2 749.2 L795.5 796.5 L795.5 760 C795.5 755 798 752.3 804 753.5 L838 773 C846 778 851.5 788 854 805 L856.5 840 L857 918 Z"/>
<path class="k" d="M809.5 778.5 Q809.5 774 813 774.8 L834 787 Q838.6 790 839 795 L839.7 812.5 Q839.7 816.5 836.5 815.2 L812 801 Q809.5 799.5 809.5 796.5 Z"/>
<path class="k" d="M814.5 778 L814.5 794 Q814.7 799 818 801 L838.8 813 M814.5 780 L820 783"/>
<ellipse class="k" cx="763.6" cy="795.9" rx="8.1" ry="13.9" transform="rotate(-27 763.6 795.9)"/>
<path class="k" d="M759.9 783.2 C757.6 789 761 800 771 805.2"/>
<path class="k" d="M732.6 768 Q733.6 766.4 734.4 768.2 L743.4 792 Q743.8 794.2 741.8 793 L725 781.4 Q723.4 780.2 724.6 778.6 Z"/>
<path class="k" d="M733.7 769.3 L729.6 776.3 Q728.8 778.4 730.4 779.8 L732.1 781.2 L742 787.9 M732.1 781.2 L738.1 777.7"/>
<ellipse class="k" cx="706.8" cy="743.2" rx="1.1" ry="1.5" style="stroke-width:.7"/>
<ellipse class="k" cx="708" cy="757.4" rx="1.1" ry="1.5" style="stroke-width:.7"/>
<ellipse class="w" cx="704.8" cy="822.5" rx="15.8" ry="27.4" transform="rotate(-27 704.8 822.5)"/>
<path d="M684.4 802.4 L692.4 798.1 L717.2 846.9 L709.2 851.2 Z" fill="#fff" stroke="none"/>
<path class="k" d="M684.4 802.4 L692.4 798.1 M709.2 851.2 L717.2 846.9"/>
<ellipse class="w" cx="696.8" cy="826.8" rx="15.8" ry="27.4" transform="rotate(-27 696.8 826.8)"/>
<ellipse class="k" cx="696.8" cy="826.8" rx="1.2" ry="1.7" transform="rotate(-27 696.8 826.8)" style="stroke-width:.85"/>
<ellipse class="w" cx="836.7" cy="901.5" rx="15.8" ry="27.4" transform="rotate(-27 836.7 901.5)"/>
<path d="M816.3 881.4 L824.3 877.1 L849.1 925.9 L841.1 930.2 Z" fill="#fff" stroke="none"/>
<path class="k" d="M816.3 881.4 L824.3 877.1 M841.1 930.2 L849.1 925.9"/>
<ellipse class="w" cx="828.7" cy="905.8" rx="15.8" ry="27.4" transform="rotate(-27 828.7 905.8)"/>
<ellipse class="k" cx="828.7" cy="905.8" rx="1.2" ry="1.7" transform="rotate(-27 828.7 905.8)" style="stroke-width:.85"/>
</g>
<g id="truck3">
<path class="w" d="M866 718 C867 712 872 708.6 879 708.4 L909 723 C918 728 925 740 928 756 L934 830 L935 868 L929 875.6 L911 876 L911 738 L868 719 Z"/>
<path class="k" d="M868.4 717.4 C869.5 713.4 873.5 712 879 712 L907 727 C915 731.5 921.5 742 924 758 L930 830 L931 872"/>
<path class="k" d="M907 745 Q909.6 754 910.2 767"/>
<path class="k" d="M757.8 714 L757.2 683.8 L760.2 683.2 L763.4 710"/>
<path class="w" d="M748.4 568 C748 563 752 559.4 758 559 C763 559.4 767 563 769.4 574 L780.2 670 L783 698.2 L778.2 700.6 L763.8 709.6 L759.8 670 L749.6 584.8 Z"/>
<path class="k" d="M748.4 568 C748.4 564 750.5 561.6 753.8 561.4 C758 561.6 761.5 564.5 762.8 571.6 L774.8 670 L778.2 700.6"/>
<ellipse class="k" cx="769.2" cy="702.2" rx="1.1" ry="1.5" style="stroke-width:.7"/>
<path class="w" d="M704 599.2 L750.8 570.4 C756 568 762 574 759.2 579.4 L708.8 609.4 Z"/>
<path class="w" d="M687.4 604 C687.2 599.5 690 596 696.8 595.4 C702 595.6 707 599.5 708.6 608 L716 670 L722.4 735 L718 740 L700.8 728 Z"/>
<path class="k" d="M687.4 604 C687.3 599.5 690 597.2 693.2 597.2 C698.5 597.4 703.5 602 704.6 612.4 L710.6 670 L717.8 737.8"/>
<ellipse class="k" cx="695.6" cy="611.2" rx="1.1" ry="1.5" style="stroke-width:.7"/>
<path class="w" transform="translate(5.2 -2.8)" d="M687.6 818 L687.6 731 Q687.6 727 690.8 728.4 L714.4 742 Q716.2 743 716.2 745.5 L716.2 749.2 L795.5 796.5 L795.5 818 Z"/>
<path class="w" d="M714.4 740.4 Q714.4 739.6 715.4 739 L788 697 L870 748 L796 791 L796 797 L714.4 747.4 Z"/>
<path class="k" d="M714.6 740.2 L796 790.6"/>
<path class="k" d="M714.6 747.3 L796 796.8" style="stroke-width:1.5"/>
<path class="k" d="M884 759 L902 770 M887 757 L908 769"/>
<path class="k" d="M884.5 759.2 L902.5 770.2" style="stroke-width:1.6"/>
<path class="w" d="M859 798 L921 764 L924 800 L928 876 L863.6 913.6 L861.5 840 Z"/>
<path class="k" d="M859 802.4 L921.3 768"/>
<path class="k" d="M863 854 L925.6 818 M863 857 L926 820.3"/>
<path class="k" d="M863 909 L927.4 872"/>
<path class="w" d="M879.4 873.5 L908.6 855.8 Q910 855 911 855.9 L913 858.6 L913 876 L884 893.6 L879.4 891 Z"/>
<path class="k" d="M879.4 873.5 L884 875.8 L913 858.6 M884 875.8 L884 893.6"/>
<path class="w" d="M812 752 L868 719 L911 738 L911 743.6 L852 778 L849 774 Z"/>
<path class="k" d="M849 774 L910.6 739.6"/>
<path class="w" d="M892.9 736.9 L894.1 737.5 L894.0 738.1 L893.8 738.7 L892.0 739.1 L889.8 739.4 L888.3 739.6 L888.1 740.1 L887.9 740.5 L889.1 741.4 L890.5 742.3 L891.1 743.2 L890.5 743.7 L889.8 744.2 L887.9 744.0 L885.7 743.7 L884.2 743.6 L883.6 743.9 L883.1 744.3 L883.5 745.3 L883.9 746.5 L883.7 747.5 L882.8 747.8 L881.8 748.0 L880.1 747.4 L878.5 746.5 L877.3 746.0 L876.5 746.1 L875.7 746.3 L875.2 747.3 L874.5 748.5 L873.6 749.3 L872.5 749.3 L871.5 749.3 L870.5 748.3 L869.8 747.1 L869.1 746.3 L868.3 746.2 L867.5 746.2 L866.2 747.0 L864.6 747.9 L863.2 748.3 L862.2 748.0 L861.3 747.7 L861.3 746.6 L861.6 745.4 L861.6 744.5 L861.0 744.2 L860.3 743.9 L858.5 744.3 L856.4 744.7 L854.7 744.7 L854.1 744.2 L853.5 743.7 L854.5 742.7 L855.8 741.7 L856.5 740.9 L856.2 740.5 L855.8 740.1 L853.9 739.9 L851.7 739.7 L850.3 739.3 L850.1 738.7 L850.0 738.1 L851.7 737.5 L853.7 736.9 L855.0 736.4 L855.0 736.0 L855.0 735.5 L853.5 734.9 L851.7 734.1 L850.8 733.3 L851.1 732.8 L851.6 732.2 L853.6 732.1 L855.8 732.1 L857.3 732.0 L857.7 731.7 L858.1 731.2 L857.3 730.3 L856.4 729.1 L856.2 728.2 L856.9 727.8 L857.8 727.4 L859.7 727.8 L861.6 728.4 L863.0 728.8 L863.7 728.5 L864.4 728.3 L864.5 727.2 L864.6 725.9 L865.2 725.1 L866.2 724.9 L867.2 724.8 L868.6 725.6 L869.8 726.7 L870.8 727.4 L871.6 727.3 L872.4 727.3 L873.4 726.3 L874.5 725.3 L875.7 724.6 L876.8 724.8 L877.8 725.0 L878.3 726.0 L878.5 727.3 L878.8 728.1 L879.6 728.3 L880.3 728.5 L882.0 727.9 L883.9 727.3 L885.4 727.0 L886.3 727.4 L887.0 727.8 L886.6 728.9 L885.7 730.1 L885.3 730.9 L885.8 731.3 L886.3 731.6 L888.3 731.5 L890.5 731.5 L892.1 731.7 L892.5 732.2 L892.8 732.8 L891.5 733.6 L889.8 734.4 L888.7 735.1 L888.9 735.5 L889.1 736.0 L890.8 736.4 Z"/>
<path class="w" d="M892.9 732.3 L894.1 732.9 L894.0 733.5 L893.8 734.1 L892.0 734.5 L889.8 734.8 L888.3 735.0 L888.1 735.5 L887.9 735.9 L889.1 736.8 L890.5 737.7 L891.1 738.6 L890.5 739.1 L889.8 739.6 L887.9 739.4 L885.7 739.1 L884.2 739.0 L883.6 739.3 L883.1 739.7 L883.5 740.7 L883.9 741.9 L883.7 742.9 L882.8 743.2 L881.8 743.4 L880.1 742.8 L878.5 741.9 L877.3 741.4 L876.5 741.5 L875.7 741.7 L875.2 742.7 L874.5 743.9 L873.6 744.7 L872.5 744.7 L871.5 744.7 L870.5 743.7 L869.8 742.5 L869.1 741.7 L868.3 741.6 L867.5 741.6 L866.2 742.4 L864.6 743.3 L863.2 743.7 L862.2 743.4 L861.3 743.1 L861.3 742.0 L861.6 740.8 L861.6 739.9 L861.0 739.6 L860.3 739.3 L858.5 739.7 L856.4 740.1 L854.7 740.1 L854.1 739.6 L853.5 739.1 L854.5 738.1 L855.8 737.1 L856.5 736.3 L856.2 735.9 L855.8 735.5 L853.9 735.3 L851.7 735.1 L850.3 734.7 L850.1 734.1 L850.0 733.5 L851.7 732.9 L853.7 732.3 L855.0 731.8 L855.0 731.4 L855.0 730.9 L853.5 730.3 L851.7 729.5 L850.8 728.7 L851.1 728.2 L851.6 727.6 L853.6 727.5 L855.8 727.5 L857.3 727.4 L857.7 727.1 L858.1 726.6 L857.3 725.7 L856.4 724.5 L856.2 723.6 L856.9 723.2 L857.8 722.8 L859.7 723.2 L861.6 723.8 L863.0 724.2 L863.7 723.9 L864.4 723.7 L864.5 722.6 L864.6 721.3 L865.2 720.5 L866.2 720.3 L867.2 720.2 L868.6 721.0 L869.8 722.1 L870.8 722.8 L871.6 722.7 L872.4 722.7 L873.4 721.7 L874.5 720.7 L875.7 720.0 L876.8 720.2 L877.8 720.4 L878.3 721.4 L878.5 722.7 L878.8 723.5 L879.6 723.7 L880.3 723.9 L882.0 723.3 L883.9 722.7 L885.4 722.4 L886.3 722.8 L887.0 723.2 L886.6 724.3 L885.7 725.5 L885.3 726.3 L885.8 726.7 L886.3 727.0 L888.3 726.9 L890.5 726.9 L892.1 727.1 L892.5 727.6 L892.8 728.2 L891.5 729.0 L889.8 729.8 L888.7 730.5 L888.9 730.9 L889.1 731.4 L890.8 731.8 Z"/>
<path class="w" d="M865.7 752.6 L864.9 753.1 L863.1 753.5 L861.4 753.9 L861.0 754.3 L860.8 754.7 L861.4 755.2 L862.8 756.0 L864.0 756.8 L863.9 757.4 L863.5 757.9 L862.3 758.1 L860.4 758.0 L858.7 757.8 L858.0 758.0 L857.5 758.4 L857.6 759.0 L858.2 760.1 L858.6 761.1 L858.1 761.6 L857.3 761.9 L856.1 761.8 L854.5 761.2 L853.1 760.6 L852.3 760.6 L851.6 760.7 L851.2 761.3 L850.9 762.4 L850.4 763.5 L849.6 763.7 L848.6 763.8 L847.6 763.4 L846.7 762.4 L845.9 761.5 L845.2 761.3 L844.5 761.2 L843.6 761.7 L842.5 762.6 L841.3 763.3 L840.3 763.3 L839.4 763.2 L838.9 762.5 L838.8 761.4 L838.9 760.4 L838.4 760.0 L837.8 759.8 L836.7 759.9 L835.0 760.4 L833.3 760.7 L832.4 760.5 L831.8 760.1 L831.8 759.4 L832.7 758.4 L833.5 757.5 L833.4 757.0 L833.1 756.6 L832.0 756.5 L830.1 756.4 L828.3 756.3 L827.7 755.8 L827.4 755.3 L828.0 754.7 L829.6 754.0 L831.1 753.5 L831.4 753.0 L831.3 752.6 L830.5 752.2 L828.9 751.6 L827.4 751.0 L827.2 750.4 L827.4 749.9 L828.5 749.5 L830.4 749.3 L832.2 749.3 L832.7 748.9 L833.1 748.6 L832.7 747.9 L831.6 747.0 L830.8 746.1 L831.1 745.5 L831.8 745.1 L833.0 745.0 L834.8 745.4 L836.5 745.8 L837.2 745.7 L837.8 745.4 L838.0 744.8 L837.8 743.7 L837.8 742.6 L838.5 742.2 L839.4 742.0 L840.6 742.3 L841.9 743.1 L843.0 743.9 L843.8 744.0 L844.5 744.0 L845.2 743.4 L845.9 742.4 L846.8 741.5 L847.7 741.3 L848.6 741.4 L849.4 741.9 L849.9 743.0 L850.3 744.0 L850.9 744.3 L851.6 744.5 L852.6 744.2 L854.1 743.5 L855.6 742.9 L856.6 743.0 L857.3 743.3 L857.6 744.0 L857.2 745.1 L856.7 746.1 L857.0 746.5 L857.5 746.8 L858.6 746.8 L860.5 746.6 L862.3 746.5 L863.1 746.9 L863.5 747.3 L863.2 748.0 L861.9 748.9 L860.7 749.7 L860.6 750.1 L860.8 750.5 L861.8 750.8 L863.6 751.1 L865.3 751.5 L865.7 752.1 Z"/>
<path class="w" d="M865.7 748.0 L864.9 748.5 L863.1 748.9 L861.4 749.3 L861.0 749.7 L860.8 750.1 L861.4 750.6 L862.8 751.4 L864.0 752.2 L863.9 752.8 L863.5 753.3 L862.3 753.5 L860.4 753.4 L858.7 753.2 L858.0 753.4 L857.5 753.8 L857.6 754.4 L858.2 755.5 L858.6 756.5 L858.1 757.0 L857.3 757.3 L856.1 757.2 L854.5 756.6 L853.1 756.0 L852.3 756.0 L851.6 756.1 L851.2 756.7 L850.9 757.8 L850.4 758.9 L849.6 759.1 L848.6 759.2 L847.6 758.8 L846.7 757.8 L845.9 756.9 L845.2 756.7 L844.5 756.6 L843.6 757.1 L842.5 758.0 L841.3 758.7 L840.3 758.7 L839.4 758.6 L838.9 757.9 L838.8 756.8 L838.9 755.8 L838.4 755.4 L837.8 755.2 L836.7 755.3 L835.0 755.8 L833.3 756.1 L832.4 755.9 L831.8 755.5 L831.8 754.8 L832.7 753.8 L833.5 752.9 L833.4 752.4 L833.1 752.0 L832.0 751.9 L830.1 751.8 L828.3 751.7 L827.7 751.2 L827.4 750.7 L828.0 750.1 L829.6 749.4 L831.1 748.9 L831.4 748.4 L831.3 748.0 L830.5 747.6 L828.9 747.0 L827.4 746.4 L827.2 745.8 L827.4 745.3 L828.5 744.9 L830.4 744.7 L832.2 744.7 L832.7 744.3 L833.1 744.0 L832.7 743.3 L831.6 742.4 L830.8 741.5 L831.1 740.9 L831.8 740.5 L833.0 740.4 L834.8 740.8 L836.5 741.2 L837.2 741.1 L837.8 740.8 L838.0 740.2 L837.8 739.1 L837.8 738.0 L838.5 737.6 L839.4 737.4 L840.6 737.7 L841.9 738.5 L843.0 739.3 L843.8 739.4 L844.5 739.4 L845.2 738.8 L845.9 737.8 L846.8 736.9 L847.7 736.7 L848.6 736.8 L849.4 737.3 L849.9 738.4 L850.3 739.4 L850.9 739.7 L851.6 739.9 L852.6 739.6 L854.1 738.9 L855.6 738.3 L856.6 738.4 L857.3 738.7 L857.6 739.4 L857.2 740.5 L856.7 741.5 L857.0 741.9 L857.5 742.2 L858.6 742.2 L860.5 742.0 L862.3 741.9 L863.1 742.3 L863.5 742.7 L863.2 743.4 L861.9 744.3 L860.7 745.1 L860.6 745.5 L860.8 745.9 L861.8 746.2 L863.6 746.5 L865.3 746.9 L865.7 747.5 Z"/>
<path class="w" d="M798.2 754.5 C800 752 803 751.6 806.5 752 L840.7 771.5 C849 776.5 854.5 787 857 798 L859.2 810 L861.5 840 L863 913 L857 918 L856.5 840 L854 805 C851.5 788 846 778 838 773 L804 753.5 C801 753 799.5 753.3 798.2 754.5 Z"/>
<path class="w" d="M687.6 818 L687.6 731 Q687.6 727 690.8 728.4 L714.4 742 Q716.2 743 716.2 745.5 L716.2 749.2 L795.5 796.5 L795.5 760 C795.5 755 798 752.3 804 753.5 L838 773 C846 778 851.5 788 854 805 L856.5 840 L857 918 Z"/>
<path class="k" d="M809.5 778.5 Q809.5 774 813 774.8 L834 787 Q838.6 790 839 795 L839.7 812.5 Q839.7 816.5 836.5 815.2 L812 801 Q809.5 799.5 809.5 796.5 Z"/>
<path class="k" d="M814.5 778 L814.5 794 Q814.7 799 818 801 L838.8 813 M814.5 780 L820 783"/>
<ellipse class="k" cx="763.6" cy="795.9" rx="8.1" ry="13.9" transform="rotate(-27 763.6 795.9)"/>
<path class="k" d="M759.9 783.2 C757.6 789 761 800 771 805.2"/>
<path class="k" d="M732.6 768 Q733.6 766.4 734.4 768.2 L743.4 792 Q743.8 794.2 741.8 793 L725 781.4 Q723.4 780.2 724.6 778.6 Z"/>
<path class="k" d="M733.7 769.3 L729.6 776.3 Q728.8 778.4 730.4 779.8 L732.1 781.2 L742 787.9 M732.1 781.2 L738.1 777.7"/>
<ellipse class="k" cx="706.8" cy="743.2" rx="1.1" ry="1.5" style="stroke-width:.7"/>
<ellipse class="k" cx="708" cy="757.4" rx="1.1" ry="1.5" style="stroke-width:.7"/>
<ellipse class="w" cx="704.8" cy="822.5" rx="15.8" ry="27.4" transform="rotate(-27 704.8 822.5)"/>
<path d="M684.4 802.4 L692.4 798.1 L717.2 846.9 L709.2 851.2 Z" fill="#fff" stroke="none"/>
<path class="k" d="M684.4 802.4 L692.4 798.1 M709.2 851.2 L717.2 846.9"/>
<ellipse class="w" cx="696.8" cy="826.8" rx="15.8" ry="27.4" transform="rotate(-27 696.8 826.8)"/>
<ellipse class="k" cx="696.8" cy="826.8" rx="1.2" ry="1.7" transform="rotate(-27 696.8 826.8)" style="stroke-width:.85"/>
<ellipse class="w" cx="836.7" cy="901.5" rx="15.8" ry="27.4" transform="rotate(-27 836.7 901.5)"/>
<path d="M816.3 881.4 L824.3 877.1 L849.1 925.9 L841.1 930.2 Z" fill="#fff" stroke="none"/>
<path class="k" d="M816.3 881.4 L824.3 877.1 M841.1 930.2 L849.1 925.9"/>
<ellipse class="w" cx="828.7" cy="905.8" rx="15.8" ry="27.4" transform="rotate(-27 828.7 905.8)"/>
<ellipse class="k" cx="828.7" cy="905.8" rx="1.2" ry="1.7" transform="rotate(-27 828.7 905.8)" style="stroke-width:.85"/>
<path class="k" d="M804.4 669.6 L804.4 720" style="stroke-dasharray:6 1.8 1.2 1.8;stroke-width:1.2;stroke-linecap:butt"/>
<path d="M804.4 727 L800.4 719 L808.4 719 Z" fill="#111"/>
<circle class="w" cx="775.6" cy="743.6" r="9"/>
<text x="775.6" y="748.6" text-anchor="middle" style="font-family:'Liberation Sans',sans-serif;font-size:14px;fill:#111;stroke:#111;stroke-width:.25">B</text>
</g>
<!-- 40_step2_extras.svg -->
<g style="fill:none;stroke:#111;stroke-width:1.2;stroke-dasharray:6 1.8 1.2 1.8;stroke-linecap:butt">
<path d="M329.5 761.2 L374 734.6"/>
<path d="M330.5 777 L376 749"/>
<path d="M501.5 653 L456.5 680.5"/>
<path d="M508.5 664.5 L458.5 694"/>
<path d="M393.5 723.2 L437.5 694.6"/>
<path d="M395.2 735.8 L440.4 706.6"/>
</g>
<g fill="#111">
<!-- arrowheads for b (left) -->
<path d="M379 731.5 L371.2 733 L375.2 739.2 Z"/>
<path d="M381 746 L373.2 747.4 L377.2 753.6 Z"/>
<!-- arrowheads for b (right) -->
<path d="M451.5 683.5 L459.3 682 L455.4 676 Z"/>
<path d="M453.5 697 L461.3 695.6 L457.4 689.4 Z"/>
<!-- arrowheads for a lines -->
<path d="M388.4 726.4 L396.2 725 L392.4 719 Z"/>
<path d="M390.2 739 L398 737.6 L394.2 731.6 Z"/>
<path d="M442.6 691.2 L434.8 692.6 L438.8 698.8 Z"/>
<path d="M445.6 703.2 L437.8 704.6 L441.8 710.8 Z"/>
</g>
<!-- b screws left -->
<g>
<path d="M325 764.6 L329.4 762" stroke="#222" stroke-width="3.6" stroke-linecap="round"/>
<path d="M325.4 764.4 L329.4 762" stroke="#fff" stroke-width="2" stroke-linecap="round"/>
<circle cx="323.4" cy="765.6" r="2.9" fill="#111"/>
<path d="M325.8 779.8 L330.2 777.2" stroke="#222" stroke-width="3.6" stroke-linecap="round"/>
<path d="M326.2 779.6 L330.2 777.2" stroke="#fff" stroke-width="2" stroke-linecap="round"/>
<circle cx="324.2" cy="780.8" r="2.9" fill="#111"/>
<!-- b screws right -->
<path d="M506.4 650.4 L502.2 652.8" stroke="#222" stroke-width="3.6" stroke-linecap="round"/>
<path d="M506 650.6 L502.2 652.8" stroke="#fff" stroke-width="2" stroke-linecap="round"/>
<circle cx="508" cy="649.5" r="2.9" fill="#111"/>
<path d="M513 661.4 L509 663.8" stroke="#222" stroke-width="3.6" stroke-linecap="round"/>
<path d="M512.6 661.6 L509 663.8" stroke="#fff" stroke-width="2" stroke-linecap="round"/>
<circle cx="514.5" cy="660.5" r="2.9" fill="#111"/>
</g>
<!-- a screws -->
<g stroke="#111" stroke-width="3" stroke-linecap="round">
<path d="M407.4 713.4 L412.6 710.2"/>
<path d="M420 705.6 L425.2 702.4"/>
<path d="M409.2 727.8 L414.4 724.6"/>
<path d="M421.2 720 L426.4 716.8"/>
</g>
<g fill="#111">
<ellipse cx="412.8" cy="710" rx="2" ry="3" transform="rotate(-32 412.8 710)"/>
<ellipse cx="419.8" cy="705.8" rx="2" ry="3" transform="rotate(-32 419.8 705.8)"/>
<ellipse cx="414.6" cy="724.4" rx="2" ry="3" transform="rotate(-32 414.6 724.4)"/>
<ellipse cx="421" cy="720.2" rx="2" ry="3" transform="rotate(-32 421 720.2)"/>
</g>
<g style="font-family:'Liberation Sans',sans-serif;font-size:16px;fill:#111;stroke:#111;stroke-width:.5">
<text x="308" y="771">b</text>
<text x="308" y="786">b</text>
<text x="513.5" y="649">b</text>
<text x="520" y="664">b</text>
<text x="397.4" y="697.4">a</text>
<text x="409.4" y="694.4">a</text>
<text x="419" y="696.8">a</text>
<text x="396.8" y="710.6">a</text>
</g>
<circle class="w" cx="458.4" cy="828.6" r="9.2"/>
<text x="458.4" y="833.7" text-anchor="middle" style="font-family:'Liberation Sans',sans-serif;font-size:14px;fill:#111;stroke:#111;stroke-width:.25">A</text>
</svg>
</body></html>
